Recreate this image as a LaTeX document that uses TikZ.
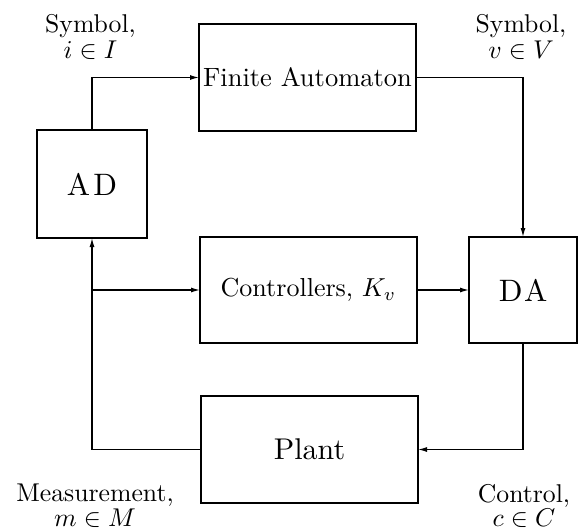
\documentclass[tikz,border=0pt]{standalone}
\usepackage{graphicx}
\usetikzlibrary{arrows.meta}
% text is set at 10pt and scaled up, so every size keeps the 10pt letter shapes
\newcommand\sz[2]{\scalebox{#1}{#2}}
\begin{document}
\begin{tikzpicture}[x=1pt, y=-1pt, line width=1.2pt,
  box/.style={draw, inner sep=0pt, outer sep=0pt},
  conn/.style={-{Latex[length=9pt,width=5pt]}},
  sig/.style={anchor=north, inner sep=0pt, align=center,
    font=\fontsize{10}{26}\selectfont},
  sigb/.style={sig, font=\fontsize{10}{24.5}\selectfont}]
  \useasboundingbox (0,0) rectangle (580,530);

  % blocks
  \node[box, minimum width=217pt, minimum height=107pt] (fa) at (307.5,77.5)
    {\sz{2.65}{Finite Automaton}};
  \node[box, minimum width=110pt, minimum height=108pt] (ad) at (92,184)
    {\sz{3.1}{A\kern1pt D}};
  \node[box, minimum width=217pt, minimum height=106pt] (ctl) at (308.5,290)
    {\sz{2.6}{Controllers, $K_v$}};
  \node[box, minimum width=108pt, minimum height=106pt] (da) at (523,290)
    {\sz{3.1}{D\kern0.5pt A}};
  \node[box, minimum width=217pt, minimum height=107pt] (pl) at (309.5,449.5)
    {\sz{3.0}{Plant}};

  % signal labels
  \node[sig] (sym1) at (90.5,14) {\sz{2.57}{Symbol,}\\ \sz{2.57}{$i \in I$}};
  \node[sig] (sym2) at (521,14) {\sz{2.57}{Symbol,}\\ \sz{2.57}{$v \in V$}};
  \node[sigb] (meas) at (95,483.5) {\sz{2.57}{Measurement,}\\ \sz{2.57}{$m \in M$}};
  \node[sigb] (ctrl) at (524,483.5) {\sz{2.57}{Control,}\\ \sz{2.57}{$c \in C$}};

  % connectors
  \draw[conn] (ad.north) |- (fa.west);
  \draw[conn] (fa.east) -| (da.north);
  \draw[conn] (ctl.east) -- (da.west);
  \draw[conn] (da.south) |- (pl.east);
  \draw[conn] (pl.west) -| (ad.south);
  \coordinate (br) at (ad.south |- ctl.west);
  \draw[conn] (br) -- (ctl.west);
\end{tikzpicture}
\end{document}
